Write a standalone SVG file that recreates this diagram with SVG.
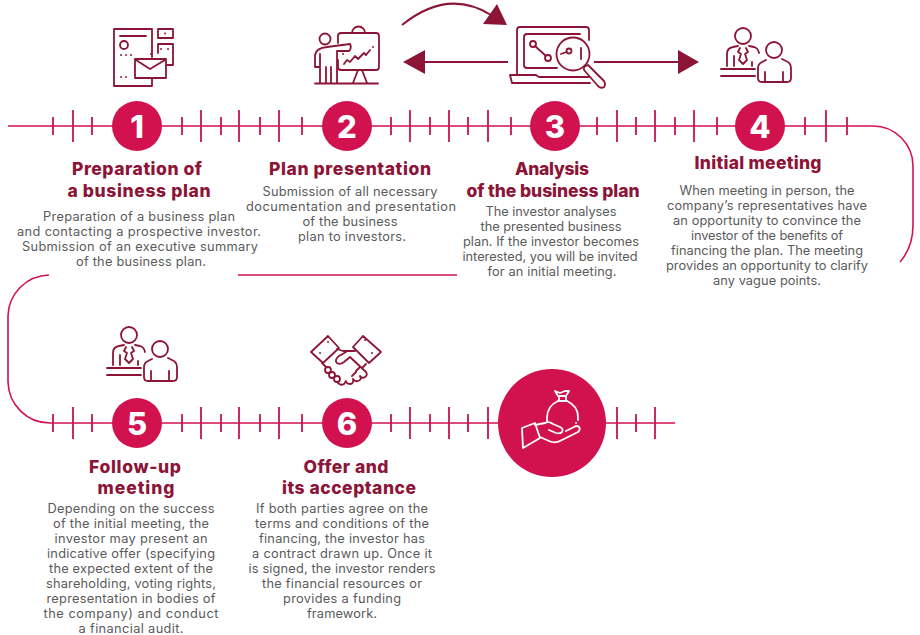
<svg xmlns="http://www.w3.org/2000/svg" width="920" height="635" viewBox="0 0 920 635">
<style>
.rail{fill:none;stroke:#d2124f;stroke-width:1.6}
.tick{fill:none;stroke:#c2164f;stroke-width:1.8}
.flow{fill:none;stroke:#8c1537;stroke-width:2}
.head{fill:#8c1537}
.disc{fill:#d2114f}
.num{font:800 31px Inter,"Liberation Sans",sans-serif;fill:#fff;text-anchor:middle}
.ttl{font:800 17.5px Inter,"Liberation Sans",sans-serif;fill:#8c1537;text-anchor:middle}
.txt{font:400 12.800px Inter,"Liberation Sans",sans-serif;fill:#5a5a5a;text-anchor:middle}
.ic{fill:none;stroke:#8c1537;stroke-width:1.8;stroke-linecap:round;stroke-linejoin:round}
.icw{fill:none;stroke:#fff;stroke-width:1.8;stroke-linecap:round;stroke-linejoin:round}
</style>
<defs>
<g id="meetingIcon" class="ic">
<circle cx="738" cy="36" r="8"/>
<circle cx="769" cy="50" r="8"/>
<path d="M722 66V54Q722 48 728 47L733 46M744 46L749 47Q753 48 754 53M729 66V56M747 66V62"/>
<path d="M735 48L733 52L736 54L734 60L738 64L742 60L740 54L743 52L741 48"/>
<path d="M716 69H750M716 76H750"/>
<path d="M761 60L757 62Q753 64 753 68V78Q753 82 757 82H782Q786 82 786 78V68Q786 63 781 61L777 59M760 82V72M778 82V72"/>
</g>
</defs>

<g id="connectors">
<path class="rail" d="M8 126H873A40 40 0 0 1 913 166V225Q913 247 900 262"/>
<path class="rail" d="M238 275H457"/>
<path class="rail" d="M49 275A42 42 0 0 0 8 316V382A42 42 0 0 0 50 423H675"/>
<path class="tick" d="M53 117V135M73 110V142M92 117V135M182 117V135M201 110V142M221 117V135M239 110V142M260 117V135M279 110V142M302 117V135M391 117V135M410 110V142M430 117V135M449 110V142M468 117V135M488 110V142M511 117V135M597 117V135M617 110V142M636 117V135M655 110V142M675 117V135M694 110V142M717 117V135M805 117V135M826 110V142M847 117V135"/>
<path class="tick" d="M53 414V432M73 407V439M92 414V432M182 414V432M201 407V439M221 414V432M239 407V439M260 414V432M279 407V439M302 414V432M391 414V432M410 407V439M430 414V432M449 407V439M468 414V432M488 407V439M617 407V439M636 414V432M655 407V439"/>
<path class="flow" d="M402 25Q448 -12 491 15"/>
<polygon class="head" points="497,4 507,25 483,24"/>
<path class="flow" d="M508 62H424"/>
<polygon class="head" points="403,62 425,50 425,74"/>
<path class="flow" d="M594 62H680"/>
<polygon class="head" points="699,62 678,50 678,74"/>
</g>

<g id="node1">
<circle class="disc" cx="137" cy="126" r="25"/>
<text class="num" x="137" y="138">1</text>
<g class="ic">
<path d="M152 57V29H114V86H152V79M120 36H146"/>
<circle cx="124" cy="45" r="4"/>
<path d="M121 55h.1M126 55h.1M131 55h.1M151 54h.1M121 77h.1M126 77h.1M165 33.500h.1M161 49h.1M168 49h.1"/>
<rect x="158" y="29" width="15" height="9"/>
<path d="M158 53V44H173V65H167"/>
<rect x="135" y="59" width="31" height="19"/>
<path d="M136 60L150 69L165 60"/>
</g>
<text class="ttl" x="137" y="175" textLength="130">Preparation of</text>
<text class="ttl" x="139" y="197" textLength="143">a business plan</text>
<text class="txt" x="139" y="221" textLength="192">Preparation of a business plan</text>
<text class="txt" x="139" y="236" textLength="244">and contacting a prospective investor.</text>
<text class="txt" x="140" y="251" textLength="236">Submission of an executive summary</text>
<text class="txt" x="141" y="266" textLength="130">of the business plan.</text>
</g>

<g id="node2">
<circle class="disc" cx="347" cy="126" r="25"/>
<text class="num" x="347" y="138">2</text>
<g class="ic">
<circle cx="325" cy="39" r="5.500"/>
<path d="M338 43V36Q338 33 341 33H376Q379 33 379 36V67Q379 70 376 70H341Q338 70 338 67V60"/>
<path d="M352 33A6.500 6.500 0 0 1 365 33"/>
<path d="M350 44L327 47Q316 48 315 55V67H320V83M320 54V67M337 51H349Q352 48 350 44M337 51V83M326 83V67M331 83V67"/>
<path d="M344 64L347 60L350 62L355 56L358 59L364 53L366 55L370 50M373 47h.1M343 54h.1"/>
<path d="M358 70L353 83M362 70L367 83"/>
<path d="M315 83.500H378"/>
</g>
<text class="ttl" x="350" y="175" textLength="162">Plan presentation</text>
<text class="txt" x="350" y="196" textLength="175">Submission of all necessary</text>
<text class="txt" x="351" y="211" textLength="210">documentation and presentation</text>
<text class="txt" x="350" y="226" textLength="95">of the business</text>
<text class="txt" x="352" y="241" textLength="108">plan to investors.</text>
</g>

<g id="node3">
<circle class="disc" cx="555" cy="126" r="25"/>
<text class="num" x="555" y="138">3</text>
<g class="ic">
<path d="M517 74V30Q517 27 520 27H586Q589 27 589 30V40"/>
<path d="M580 34H527Q524 34 524 37V65Q524 68 527 68H557"/>
<path d="M510 75H536L539 77H589M510 75L512 83H590"/>
<circle cx="533" cy="44" r="3"/>
<circle cx="548" cy="58" r="3"/>
<path d="M535 46L546 56"/>
<circle cx="573" cy="54" r="16.500"/>
<circle cx="569" cy="51" r="2.500"/>
<path d="M566.500 52L561 54M581 48V59"/>
<path d="M584 67L588 65L604 81Q606 85 604 87Q601 89 598 86L584 70Z"/>
</g>
<text class="ttl" x="552" y="175" textLength="74">Analysis</text>
<text class="ttl" x="553" y="197" textLength="173">of the business plan</text>
<text class="txt" x="551" y="216" textLength="131">The investor analyses</text>
<text class="txt" x="551" y="231" textLength="141">the presented business</text>
<text class="txt" x="551" y="246" textLength="176">plan. If the investor becomes</text>
<text class="txt" x="550" y="261" textLength="175">interested, you will be invited</text>
<text class="txt" x="552" y="276" textLength="129">for an initial meeting.</text>
</g>

<g id="node4">
<circle class="disc" cx="760" cy="126" r="25"/>
<text class="num" x="760" y="138">4</text>
<use href="#meetingIcon" transform="translate(5 0)"/>
<text class="ttl" x="758" y="169" textLength="127">Initial meeting</text>
<text class="txt" x="767" y="195" textLength="175">When meeting in person, the</text>
<text class="txt" x="767" y="210" textLength="200">company’s representatives have</text>
<text class="txt" x="767" y="225" textLength="188">an opportunity to convince the</text>
<text class="txt" x="767" y="240" textLength="152">investor of the benefits of</text>
<text class="txt" x="767" y="255" textLength="192">financing the plan. The meeting</text>
<text class="txt" x="767" y="270" textLength="202">provides an opportunity to clarify</text>
<text class="txt" x="767" y="285" textLength="108">any vague points.</text>
</g>

<g id="node5">
<circle class="disc" cx="137" cy="423" r="25"/>
<text class="num" x="137" y="435">5</text>
<use href="#meetingIcon" transform="translate(-609 299)"/>
<text class="ttl" x="135" y="473" textLength="92">Follow-up</text>
<text class="ttl" x="136" y="494" textLength="77">meeting</text>
<text class="txt" x="131" y="513" textLength="167">Depending on the success</text>
<text class="txt" x="131" y="528" textLength="156">of the initial meeting, the</text>
<text class="txt" x="131" y="543" textLength="153">investor may present an</text>
<text class="txt" x="131" y="558" textLength="168">indicative offer (specifying</text>
<text class="txt" x="131" y="573" textLength="164">the expected extent of the</text>
<text class="txt" x="131" y="588" textLength="170">shareholding, voting rights,</text>
<text class="txt" x="131" y="603" textLength="169">representation in bodies of</text>
<text class="txt" x="131" y="618" textLength="175">the company) and conduct</text>
<text class="txt" x="131" y="633" textLength="105">a financial audit.</text>
</g>

<g id="node6">
<circle class="disc" cx="347" cy="423" r="25"/>
<text class="num" x="347" y="435">6</text>
<g class="ic">
<path d="M328 336L311 352L323 363M339 348L328 336M363 336L381 352L369 363M353 347L363 336M323 363L339 348M369 363L353 347"/>
<path d="M337 349L343 351H355M346 352L339 356Q334 360 337 363Q340 365 344 362L350 357L366 372Q368 375 365 377Q362 379 360 376M366 364L362 368M360 376Q362 380 358 381Q355 382 353 379M353 379Q354 384 350 384Q347 384 346 382M346 381L344 384Q341 386 338 383M322 363L326 367"/>
<circle cx="328" cy="370" r="3"/>
<circle cx="332" cy="375" r="3"/>
<circle cx="337" cy="379" r="3"/>
<path d="M328 342h.1M365 340h.1M320 353h.1M372 353h.1M356 371L360 367M352 376L356 372"/>
</g>
<text class="ttl" x="346" y="473" textLength="85">Offer and</text>
<text class="ttl" x="349" y="494" textLength="134">its acceptance</text>
<text class="txt" x="342" y="513" textLength="172">If both parties agree on the</text>
<text class="txt" x="342" y="528" textLength="174">terms and conditions of the</text>
<text class="txt" x="342" y="543" textLength="166">financing, the investor has</text>
<text class="txt" x="342" y="558" textLength="180">a contract drawn up. Once it</text>
<text class="txt" x="342" y="573" textLength="187">is signed, the investor renders</text>
<text class="txt" x="342" y="588" textLength="160">the financial resources or</text>
<text class="txt" x="342" y="603" textLength="118">provides a funding</text>
<text class="txt" x="342" y="618" textLength="70">framework.</text>
</g>

<g id="node7">
<circle class="disc" cx="552" cy="423" r="54"/>
<g class="icw">
<path d="M555 391L560 393L565 391L569 391L566 396H558L555 391ZM559 396V401M566 396V401M558 401H567M558 401Q547 406 547 418V421M567 401Q578 406 578 417V420M576 423h.1"/>
<path d="M522 428L535 423L540 438L523 448Z"/>
<path d="M535 425L545 423Q549 421 553 424L560 427Q564 429 562 432Q560 434 556 433L549 430"/>
<path d="M540 437L549 441Q556 444 562 440L578 432Q581 429 579 427Q577 425 574 427L566 431"/>
</g>
</g>
</svg>
